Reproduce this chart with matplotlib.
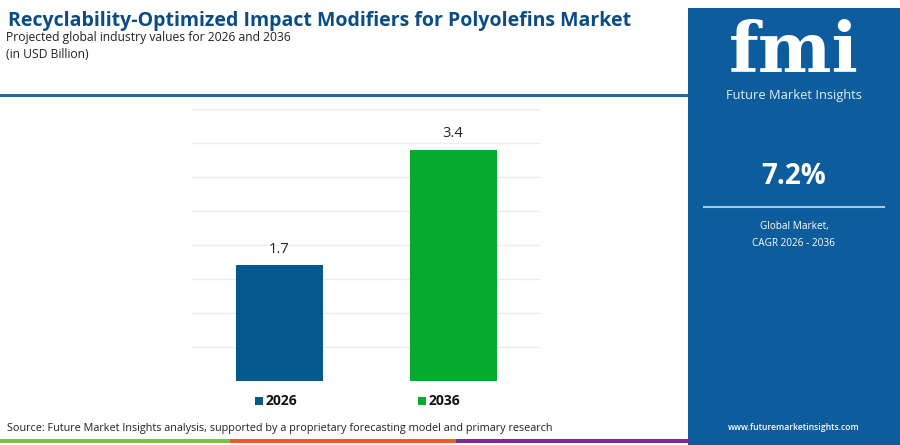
import matplotlib.pyplot as plt
from matplotlib.patches import Rectangle

# chart data
years = ["2026", "2036"]
values = [1.7, 3.4]
bar_colors = ["#03588c", "#06ab2d"]
cagr_text = "7.2%"

title = "Recyclability-Optimized Impact Modifiers for Polyolefins Market"
subtitle = "Projected global industry values for 2026 and 2036"
unit = "(in USD Billion)"
source = ("Source: Future Market Insights analysis, supported by a proprietary "
          "forecasting model and primary research")

W, H = 900, 445
fig = plt.figure(figsize=(9, 4.45), dpi=100)
fig.patch.set_facecolor("white")
plt.rcParams["font.family"] = ["Open Sans", "DejaVu Sans"]


def fx(px):
    return px / W


def fy(py):
    return 1 - py / H


# right blue panel
fig.patches.append(Rectangle((fx(688), 0), fx(212), fy(8), transform=fig.transFigure,
                             facecolor="#0d5c9d", edgecolor="none", zorder=0))
# blue rule under title
fig.patches.append(Rectangle((0, fy(97)), fx(688), 3 / H, transform=fig.transFigure,
                             facecolor="#1f6aa5", edgecolor="none"))
# coloured strip at bottom
for x0, x1, c in [(0, 230, "#7cc242"), (230, 456, "#f05a28"), (456, 690, "#7b2d8e")]:
    fig.patches.append(Rectangle((fx(x0), fy(443)), fx(x1 - x0), 4 / H,
                                 transform=fig.transFigure, facecolor=c, edgecolor="none"))

# header text
fig.text(fx(8), fy(21), title, fontsize=14, fontweight="bold", color="#0b4c85",
         va="center", ha="left")
fig.text(fx(6), fy(38), subtitle, fontsize=8.7, color="#222222", va="center")
fig.text(fx(6), fy(55), unit, fontsize=8.7, color="#222222", va="center")

# bar chart
ax = fig.add_axes([fx(192), fy(381), fx(540 - 192), (381 - 109) / H])
x = list(range(len(years)))
bars = ax.bar(x, values, width=0.5, color=bar_colors, zorder=3)
ax.set_xlim(-0.5, 1.5)
ax.set_ylim(0, 4.0)
ax.set_yticks([i * 0.5 for i in range(9)])
ax.grid(axis="y", color="#ececec", linewidth=1, zorder=0)
ax.set_xticks([])
ax.tick_params(left=False, labelleft=False)
for s in ax.spines.values():
    s.set_visible(False)
for b, v in zip(bars, values):
    ax.annotate(f"{v}", (b.get_x() + b.get_width() / 2, v), xytext=(0, 6),
                textcoords="offset points", ha="center", va="bottom",
                fontsize=10.5, color="#222222")

# legend
for lx, year, c in [(259, years[0], bar_colors[0]), (422, years[1], bar_colors[1])]:
    fig.patches.append(Rectangle((fx(lx - 4), fy(405)), 8 / W, 8 / H,
                                 transform=fig.transFigure, facecolor=c, edgecolor="none"))
    fig.text(fx(lx + 7), fy(401), year, fontsize=10, fontweight="bold",
             color="#111111", va="center", ha="left")

fig.text(fx(7), fy(429), source, fontsize=7.8, color="#222222", va="center")

# right panel content
cx = fx(794)
fig.text(cx, fy(52), "fmi", fontsize=50, fontweight="bold", color="white",
         ha="center", va="center", family=["DejaVu Serif"])
fig.text(cx, fy(96), "Future Market Insights", fontsize=9.3, color="#e6eef6",
         ha="center", va="center")
fig.text(cx, fy(176), cagr_text, fontsize=20, fontweight="bold", color="white",
         ha="center", va="center")
fig.add_artist(plt.Line2D([fx(704), fx(884)], [fy(207), fy(207)], color="#a9c6e2",
                          linewidth=1.5, transform=fig.transFigure))
fig.text(cx, fy(226), "Global Market,", fontsize=7.2, color="white",
         ha="center", va="center")
fig.text(cx, fy(243), "CAGR 2026 - 2036", fontsize=7.2, color="white",
         ha="center", va="center")
fig.text(cx, fy(428), "www.futuremarketinsights.com", fontsize=6.2, fontweight="semibold",
         color="white", ha="center", va="center")

fig.savefig("out.png", dpi=100)
